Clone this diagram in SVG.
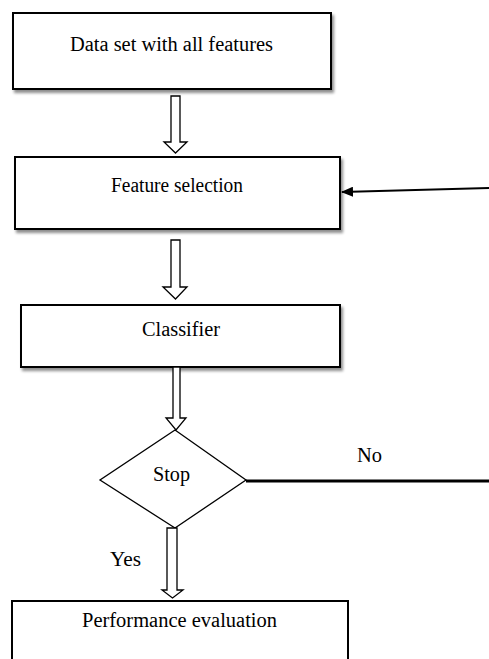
<svg xmlns="http://www.w3.org/2000/svg" width="489" height="659" viewBox="0 0 489 659">
<defs>
<style>
.box{fill:#fff;stroke:#000;stroke-width:2}
.dia{fill:#fff;stroke:#000;stroke-width:1.3}
.lbl{font-family:'Liberation Serif','DejaVu Serif',serif;font-size:20px;fill:#000}
.hollow{fill:#fff;stroke:#000;stroke-width:1.3;stroke-linejoin:miter}
</style>
<filter id="sh" x="-5%" y="-10%" width="115%" height="130%">
<feGaussianBlur in="SourceAlpha" stdDeviation="1.5"/>
<feOffset dx="2" dy="3" result="b"/>
<feComponentTransfer><feFuncA type="linear" slope="0.45"/></feComponentTransfer>
<feMerge><feMergeNode/><feMergeNode in="SourceGraphic"/></feMerge>
</filter>
<marker id="ah" markerWidth="12" markerHeight="10" refX="11" refY="5" orient="auto" markerUnits="userSpaceOnUse">
<path d="M0,0 L12,5 L0,10 z" fill="#000"/>
</marker>
</defs>
<rect width="489" height="659" fill="#fff"/>

<g id="n1">
<rect class="box" x="13" y="13" width="318" height="76" filter="url(#sh)"/>
<text class="lbl" font-family="Liberation Serif, serif" x="171.5" y="51" text-anchor="middle" textLength="203" lengthAdjust="spacingAndGlyphs">Data set with all features</text>
</g>
<g id="n2">
<rect class="box" x="15" y="157" width="325" height="72" filter="url(#sh)"/>
<text class="lbl" font-family="Liberation Serif, serif" x="177" y="192" text-anchor="middle" textLength="132" lengthAdjust="spacingAndGlyphs">Feature selection</text>
</g>
<g id="n3">
<rect class="box" x="21" y="305" width="319" height="62" filter="url(#sh)"/>
<text class="lbl" font-family="Liberation Serif, serif" x="181" y="336" text-anchor="middle" textLength="78" lengthAdjust="spacingAndGlyphs">Classifier</text>
</g>
<g id="n4">
<polygon class="dia" points="175,430 246,480 175,528 100,480"/>
<text class="lbl" font-family="Liberation Serif, serif" x="171.5" y="481" text-anchor="middle" textLength="37" lengthAdjust="spacingAndGlyphs">Stop</text>
</g>
<g id="n5">
<rect class="box" x="12" y="601" width="336" height="70"/>
<text class="lbl" font-family="Liberation Serif, serif" x="179.5" y="627" text-anchor="middle" textLength="195" lengthAdjust="spacingAndGlyphs">Performance evaluation</text>
</g>

<g id="connectors">
<polygon class="hollow" points="171,96 180,96 180,142 187,142 175.5,153 164,142 171,142"/>
<polygon class="hollow" points="171,240 180,240 180,287 187,287 175.5,299 163,287 171,287"/>
<polygon class="hollow" points="173,367 180,367 180,418 186,418 176,430 166,418 173,418"/>
<polygon class="hollow" points="167,528 177,528 177,590 183,590 172.5,598 162,590 167,590"/>
<line x1="246" y1="481" x2="489" y2="481" stroke="#000" stroke-width="3.2"/>
<line x1="489" y1="188" x2="342" y2="192" stroke="#000" stroke-width="2" marker-end="url(#ah)"/>
<text class="lbl" font-family="Liberation Serif, serif" x="357" y="462" textLength="25" lengthAdjust="spacingAndGlyphs">No</text>
<text class="lbl" font-family="Liberation Serif, serif" x="110" y="566" textLength="31" lengthAdjust="spacingAndGlyphs">Yes</text>
</g>
</svg>
